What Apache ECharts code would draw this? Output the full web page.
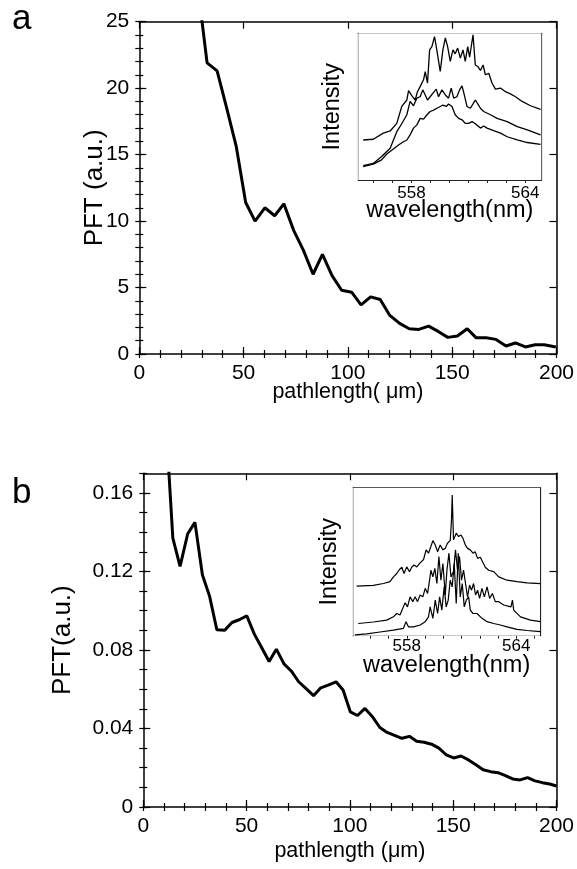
<!DOCTYPE html>
<html><head><meta charset="utf-8">
<script src="https://cdn.jsdelivr.net/npm/echarts@6/dist/echarts.min.js"></script>
<style>html,body{margin:0;padding:0;background:#fff}#c{width:577px;height:869px}</style>
</head><body><div id="c"></div>
<script>
// ---------- Panel a : main curve ----------
const pathA = [27.9, 32.5, 37.3, 41.9, 46.5, 51.0, 55.5, 60.2, 64.9, 69.3, 74.0, 78.7, 83.3, 87.8, 92.4, 97.0, 101.8, 106.3, 110.9, 115.5, 120.1, 124.8, 129.4, 134.0, 138.7, 143.3, 147.9, 152.5, 157.2, 161.4, 166.2, 171.0, 175.8, 180.3, 185.1, 189.8, 194.1, 199.7];
const pftA  = [27.8, 21.9, 21.3, 18.5, 15.6, 11.4, 10.0, 11.0, 10.4, 11.3, 9.3, 7.8, 6.0, 7.5, 5.9, 4.8, 4.65, 3.7, 4.3, 4.1, 2.9, 2.3, 1.9, 1.85, 2.1, 1.7, 1.25, 1.35, 1.9, 1.23, 1.23, 1.1, 0.6, 0.83, 0.53, 0.7, 0.7, 0.53];

// ---------- Panel b : main curve ----------
const pathB = [10.7, 14.3, 17.8, 21.5, 25.0, 28.6, 32.1, 35.6, 39.4, 42.9, 46.4, 50.1, 53.7, 57.2, 60.9, 64.4, 68.1, 71.6, 75.2, 78.7, 82.4, 85.9, 89.5, 93.3, 96.7, 100.2, 103.7, 107.3, 110.9, 114.5, 118.0, 121.6, 125.2, 128.8, 132.3, 135.9, 139.5, 143.1, 146.7, 150.2, 153.8, 157.4, 161.0, 164.5, 168.1, 171.7, 175.3, 178.8, 182.4, 186.0, 189.6, 193.2, 196.7, 200.0];
const pftB  = [0.200, 0.137, 0.1226, 0.1392, 0.1450, 0.1183, 0.1073, 0.0903, 0.0900, 0.0940, 0.0954, 0.0974, 0.0882, 0.0814, 0.0741, 0.0804, 0.0729, 0.0693, 0.0638, 0.0604, 0.0567, 0.0607, 0.0621, 0.0638, 0.0596, 0.0485, 0.0466, 0.0502, 0.0460, 0.0405, 0.0380, 0.0365, 0.0350, 0.0360, 0.0335, 0.0330, 0.0320, 0.0300, 0.0265, 0.0250, 0.0260, 0.0240, 0.0215, 0.0190, 0.0180, 0.0175, 0.0160, 0.0143, 0.0138, 0.0150, 0.0133, 0.0124, 0.0117, 0.0107];

// ---------- Inset a : spectra ----------
const wlA1  = [555.46, 555.99, 556.52, 556.88, 557.23, 557.49, 557.76, 557.85, 558.02, 558.20, 558.32, 558.46, 558.64, 558.73, 558.85, 558.96, 559.08, 559.22, 559.34, 559.52, 559.66, 559.79, 559.91, 560.05, 560.19, 560.31, 560.44, 560.58, 560.72, 560.84, 560.97, 561.07, 561.25, 561.37, 561.50, 561.64, 561.78, 561.90, 562.08, 562.25, 562.43, 562.70, 562.96, 563.22, 563.49, 563.84, 564.28, 564.81];
const intA1 = [1.11, 1.13, 1.30, 1.36, 1.57, 2.04, 2.22, 2.48, 2.34, 2.22, 2.45, 2.59, 2.78, 3.01, 2.69, 3.61, 3.70, 3.98, 3.61, 3.01, 3.61, 3.94, 3.70, 3.29, 3.61, 3.50, 3.66, 3.38, 3.61, 3.29, 3.70, 3.41, 4.03, 3.19, 3.15, 3.04, 3.19, 2.92, 2.96, 2.69, 2.52, 2.55, 2.45, 2.39, 2.31, 2.18, 2.06, 1.96];
const wlA2  = [555.46, 555.99, 556.43, 556.88, 557.23, 557.49, 557.76, 557.93, 558.11, 558.29, 558.46, 558.60, 558.73, 558.85, 558.99, 559.17, 559.31, 559.43, 559.61, 559.79, 559.96, 560.10, 560.23, 560.40, 560.54, 560.67, 560.79, 560.93, 561.11, 561.25, 561.37, 561.50, 561.64, 561.81, 562.17, 562.52, 563.05, 563.58, 564.11, 564.81];
const intA2 = [0.40, 0.46, 0.65, 0.88, 1.34, 1.56, 1.81, 2.18, 2.06, 2.27, 2.31, 2.50, 2.36, 2.22, 2.31, 2.43, 2.52, 2.31, 2.50, 2.36, 2.27, 2.55, 2.27, 2.31, 2.50, 2.61, 2.36, 2.04, 1.99, 2.11, 2.22, 2.11, 1.99, 1.90, 1.81, 1.71, 1.62, 1.48, 1.39, 1.25];
const wlA3  = [555.46, 555.99, 556.43, 556.70, 557.05, 557.32, 557.58, 557.76, 557.93, 558.11, 558.29, 558.46, 558.64, 558.82, 558.99, 559.17, 559.34, 559.52, 559.66, 559.84, 559.96, 560.14, 560.31, 560.49, 560.67, 560.84, 561.02, 561.20, 561.37, 561.64, 561.81, 561.99, 562.34, 562.70, 563.05, 563.58, 564.11, 564.81];
const intA3 = [0.37, 0.44, 0.56, 0.72, 0.86, 0.97, 1.06, 1.11, 1.25, 1.44, 1.53, 1.71, 1.69, 1.81, 1.90, 1.94, 1.99, 2.04, 2.08, 2.04, 2.11, 2.04, 1.81, 1.71, 1.67, 1.57, 1.57, 1.62, 1.56, 1.44, 1.50, 1.44, 1.37, 1.30, 1.20, 1.11, 1.04, 0.99];

// ---------- Inset b : spectra ----------
const wlB1  = [555.25, 556.17, 556.72, 557.08, 557.27, 557.45, 557.60, 557.73, 557.85, 558.00, 558.15, 558.27, 558.40, 558.55, 558.73, 558.92, 559.06, 559.19, 559.32, 559.43, 559.56, 559.69, 559.83, 559.98, 560.11, 560.23, 560.38, 560.45, 560.49, 560.53, 560.56, 560.71, 560.84, 560.97, 561.08, 561.21, 561.33, 561.48, 561.63, 561.75, 561.88, 562.03, 562.18, 562.30, 562.49, 562.76, 563.04, 563.49, 564.04, 564.59, 565.33];
const intB1 = [1.34, 1.36, 1.41, 1.46, 1.59, 1.68, 1.79, 1.85, 1.68, 1.86, 1.73, 1.85, 1.91, 1.86, 1.97, 2.06, 2.32, 2.23, 2.41, 2.57, 2.45, 2.27, 2.45, 2.32, 2.36, 2.50, 2.57, 3.13, 3.80, 3.13, 2.59, 2.77, 2.68, 2.72, 2.63, 2.45, 2.36, 2.32, 2.23, 2.27, 2.09, 2.12, 1.97, 1.85, 1.77, 1.73, 1.59, 1.50, 1.46, 1.43, 1.41];
const wlB2  = [555.34, 556.17, 556.90, 557.27, 557.45, 557.63, 557.78, 557.91, 558.04, 558.18, 558.33, 558.46, 558.59, 558.73, 558.88, 559.01, 559.14, 559.25, 559.32, 559.43, 559.54, 559.65, 559.76, 559.87, 559.98, 560.11, 560.20, 560.31, 560.42, 560.56, 560.67, 560.78, 560.89, 561.00, 561.11, 561.22, 561.33, 561.44, 561.55, 561.66, 561.77, 561.88, 561.99, 562.12, 562.25, 562.40, 562.54, 562.69, 562.85, 563.04, 563.31, 563.71, 563.79, 563.86, 564.23, 564.78, 565.33];
const intB2 = [0.33, 0.37, 0.42, 0.51, 0.60, 0.56, 0.74, 0.89, 0.78, 1.05, 0.92, 1.05, 0.92, 1.10, 1.05, 1.28, 1.14, 1.50, 1.77, 1.59, 1.82, 1.41, 2.14, 1.50, 1.95, 1.10, 1.77, 2.23, 1.59, 1.73, 2.32, 1.77, 2.14, 1.50, 1.77, 1.41, 1.05, 1.37, 1.23, 1.41, 1.10, 1.23, 1.01, 1.28, 1.05, 1.32, 1.01, 1.14, 0.92, 0.92, 0.83, 0.78, 0.96, 0.69, 0.51, 0.42, 0.38];
const wlB3  = [555.16, 555.80, 556.54, 557.27, 557.82, 557.96, 558.09, 558.37, 558.73, 559.01, 559.19, 559.28, 559.43, 559.56, 559.69, 559.80, 559.92, 560.05, 560.16, 560.27, 560.38, 560.49, 560.60, 560.71, 560.82, 560.93, 561.04, 561.15, 561.26, 561.39, 561.48, 561.63, 561.85, 562.12, 562.40, 562.76, 563.13, 563.49, 564.04, 564.59, 565.33];
const intB3 = [0.02, 0.05, 0.10, 0.15, 0.20, 0.38, 0.24, 0.24, 0.29, 0.38, 0.51, 0.78, 0.47, 0.96, 0.60, 1.05, 0.69, 1.32, 0.78, 0.96, 1.50, 1.32, 1.95, 0.87, 2.23, 1.05, 1.41, 0.78, 0.96, 1.05, 0.69, 0.60, 0.60, 0.47, 0.38, 0.33, 0.29, 0.24, 0.17, 0.14, 0.11];

// ---------- Tick labels ----------
const pathTicks = [0, 50, 100, 150, 200];
const pftTicksA = [0, 5, 10, 15, 20, 25];
const pftTicksB = [0, 0.04, 0.08, 0.12, 0.16];
const wlTicks   = [558, 564];
const intTicks  = [0, 1, 2, 3, 4];

// ---------- helpers ----------
const FONT = '"Liberation Sans", Arial, Helvetica, sans-serif';
function steps(a, b, s) { const r = []; for (let v = a; v <= b + 1e-9; v += s) r.push(+v.toFixed(6)); return r; }
function pairs(xs, ys) { return xs.map((x, i) => [x, ys[i]]); }

const xAxis = [], yAxis = [];
function addFrame(g, xr, xMaj, xMin, yr, yMaj, yMin, st) {
  const line = { show: true, onZero: false, lineStyle: { color: st.color, width: st.lineW } };
  const tickStyle = { color: st.color, width: st.tickW };
  function mk(pos, r, maj, min, withLabels, name, nameGap, isX) {
    const major = {
      type: 'value', gridIndex: g, min: r[0], max: r[1], position: pos,
      axisLine: line,
      axisTick: { show: true, inside: true, length: st.majLen, customValues: maj, lineStyle: tickStyle },
      axisLabel: withLabels ? { show: true, customValues: maj, color: '#000', fontFamily: FONT, fontSize: st.labelSize, margin: isX ? st.xLabelMargin : st.yLabelMargin } : { show: false },
      splitLine: { show: false }
    };
    if (name) {
      Object.assign(major, {
        name: name, nameLocation: 'middle', nameGap: nameGap, nameMoveOverlap: false,
        nameTextStyle: { color: '#000', fontFamily: FONT, fontSize: isX ? st.xNameSize : st.yNameSize }
      });
    }
    const minor = {
      type: 'value', gridIndex: g, min: r[0], max: r[1], position: pos,
      axisLine: { show: false },
      axisTick: { show: true, inside: true, length: st.minLen, customValues: min, lineStyle: tickStyle },
      axisLabel: { show: false }, splitLine: { show: false }
    };
    return [major, minor];
  }
  const xi = xAxis.length, yi = yAxis.length;
  xAxis.push(...mk('bottom', xr, xMaj, xMin, true, st.xName, st.xNameGap, true));
  xAxis.push(...mk('top', xr, xMaj, xMin, false));
  yAxis.push(...mk('left', yr, yMaj, yMin, st.yLabels, st.yName, st.yNameGap, false));
  yAxis.push(...mk('right', yr, yMaj, yMin, false));
  return { xi, yi };
}

const mainStyle = { color: '#000', lineW: 1.5, tickW: 1.2, majLen: 7, minLen: 4, labelSize: 21, xLabelMargin: 9, yLabelMargin: 10, yLabels: true, xNameSize: 21.5, yNameSize: 26 };
const insetStyle = { color: '#222', lineW: 1.2, tickW: 1, majLen: 5, minLen: 3, labelSize: 17, xLabelMargin: 5, yLabelMargin: 4, yLabels: false, xNameSize: 23.5, yNameSize: 23.5 };

const fA = addFrame(0, [0, 200], pathTicks, steps(0, 200, 10), [0, 25], pftTicksA, steps(0, 25, 1),
  Object.assign({}, mainStyle, { xName: 'pathlength( μm)', xNameGap: 27, yName: 'PFT (a.u.)', yNameGap: 31 }));
const fAi = addFrame(1, [555.2, 564.85], wlTicks, steps(556, 564, 1), [0, 4.07], intTicks, steps(0, 4, 1 / 3),
  Object.assign({}, insetStyle, { xName: 'wavelength(nm)', xNameGap: 19, yName: 'Intensity', yNameGap: 14 }));
const fB = addFrame(2, [0, 200], pathTicks, steps(0, 200, 10), [0, 0.17], pftTicksB, steps(0, 0.17, 0.01),
  Object.assign({}, mainStyle, { xName: 'pathlength (μm)', xNameGap: 33, yName: 'PFT(a.u.)', yNameGap: 67 }));
const fBi = addFrame(3, [555.07, 565.3], wlTicks, steps(556, 565, 1), [0, 4], intTicks, steps(0, 4, 1 / 3),
  Object.assign({}, insetStyle, { xLabelMargin: 2, xName: 'wavelength(nm)', xNameGap: 18, yName: 'Intensity', yNameGap: 12 }));

function lineSeries(f, xs, ys, w) {
  return { type: 'line', xAxisIndex: f.xi, yAxisIndex: f.yi, data: pairs(xs, ys), symbol: 'none', clip: true,
           lineStyle: { color: '#000', width: w }, z: 5, silent: true };
}

const option = {
  animation: false,
  backgroundColor: '#fff',
  grid: [
    { left: 139.3, top: 21.7, width: 418.4, height: 332.3 },
    { left: 358.3, top: 33.3, width: 183, height: 146.7, show: true, backgroundColor: '#fff', borderWidth: 0, z: 3 },
    { left: 143.3, top: 473.3, width: 419.4, height: 333.7 },
    { left: 353.3, top: 487.7, width: 186.7, height: 148, show: true, backgroundColor: '#fff', borderWidth: 0, z: 3 }
  ],
  xAxis: xAxis,
  yAxis: yAxis,
  graphic: [
    { type: 'text', left: 12, top: 2, style: { text: 'a', font: '35px ' + FONT, fill: '#000' } },
    { type: 'text', left: 12, top: 476, style: { text: 'b', font: '35px ' + FONT, fill: '#000' } }
  ],
  series: [
    lineSeries(fA, pathA, pftA, 3),
    lineSeries(fAi, wlA1, intA1, 1.3),
    lineSeries(fAi, wlA2, intA2, 1.3),
    lineSeries(fAi, wlA3, intA3, 1.3),
    lineSeries(fB, pathB, pftB, 3),
    lineSeries(fBi, wlB1, intB1, 1.2),
    lineSeries(fBi, wlB2, intB2, 1.2),
    lineSeries(fBi, wlB3, intB3, 1.2)
  ]
};
const chart = echarts.init(document.getElementById('c'), null, { renderer: 'canvas' });
chart.setOption(option);
</script></body></html>
